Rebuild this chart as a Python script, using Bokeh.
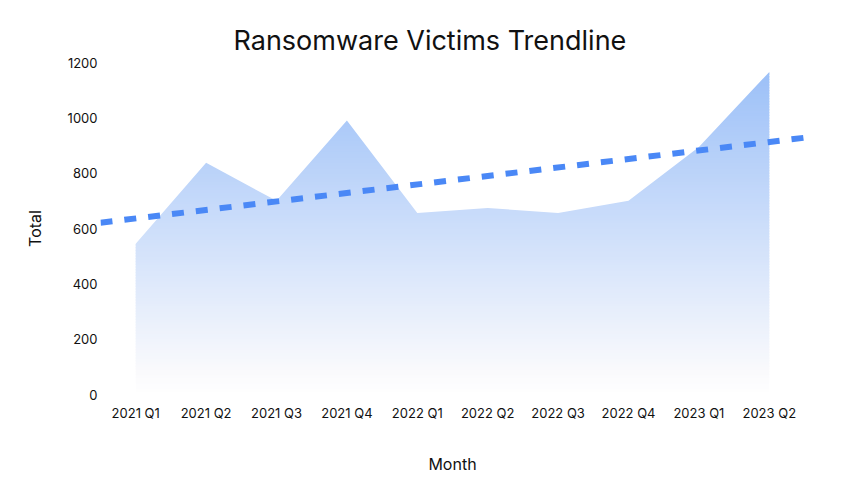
from bokeh.plotting import figure
from bokeh.models import Range1d, FixedTicker, ColumnDataSource
from bokeh.embed import file_html
from bokeh.resources import INLINE
import numpy as np

# Data
quarters = ['2021 Q1', '2021 Q2', '2021 Q3', '2021 Q4', '2022 Q1',
            '2022 Q2', '2022 Q3', '2022 Q4', '2023 Q1', '2023 Q2']
victims = [545, 838, 700, 990, 656, 674, 656, 700, 895, 1166]

# Trendline values at the left and right edge of the plot
trend_x = [-0.5, 9.5]
trend_y = [621, 928]

y_ticks = [0, 200, 400, 600, 800, 1000, 1200]

FONT = "Inter"
idx = np.arange(len(quarters))

p = figure(
    width=851,
    height=476,
    x_range=Range1d(-0.5, len(quarters) - 0.5),
    y_range=Range1d(0, 1200),
    output_backend="svg",
    toolbar_location=None,
    tools="",
    min_border_left=100,
    min_border_right=47,
    min_border_top=62,
    min_border_bottom=81,
    background_fill_color="white",
    border_fill_color="white",
    outline_line_color=None,
)

# Vertical gradient: thin horizontal bands, then white mask above the series
top_col = np.array([156, 192, 248])
bot_col = np.array([250, 250, 252])
y_lo, y_hi = 80, max(victims)
edges = np.linspace(0, y_hi, 118)
colors = []
for a, b in zip(edges[:-1], edges[1:]):
    mid = (a + b) / 2
    t = min(max((mid - y_lo) / (y_hi - y_lo), 0), 1)
    if mid < y_lo:
        c = bot_col + (np.array([255, 255, 255]) - bot_col) * (1 - mid / y_lo)
    else:
        c = bot_col + (top_col - bot_col) * t
    colors.append("#%02x%02x%02x" % tuple(int(round(v)) for v in c))

bands = ColumnDataSource(dict(
    left=[idx[0]] * len(colors), right=[idx[-1]] * len(colors),
    bottom=edges[:-1], top=edges[1:] + 5, color=colors,
))
p.quad(left='left', right='right', bottom='bottom', top='top',
       fill_color='color', line_color=None, source=bands)

# mask everything above the series (extended sideways so no edge sliver shows)
mask_x = np.r_[idx[0] - 0.5, idx, idx[-1] + 0.5]
mask_y = np.r_[victims[0], victims, victims[-1]]
p.varea(x=mask_x, y1=mask_y, y2=[1300] * len(mask_x), fill_color="white")

# dashed trendline
p.line(trend_x, trend_y, line_color="#4a88f6", line_width=6, line_dash="12 12")

# Title
p.title.text = "Ransomware Victims Trendline"
p.title.align = "left"
p.title.offset = 133
p.title.standoff = 12
p.title.text_font = FONT
p.title.text_font_size = "27px"
p.title.text_font_style = "normal"
p.title.text_color = "#111111"

# Axes
p.xaxis.ticker = FixedTicker(ticks=list(idx))
p.xaxis.major_label_overrides = {int(i): q for i, q in zip(idx, quarters)}
p.yaxis.ticker = FixedTicker(ticks=y_ticks)
p.xaxis.axis_label = "Month"
p.yaxis.axis_label = "Total"

for ax in (p.xaxis, p.yaxis):
    ax.axis_line_color = None
    ax.major_tick_line_color = None
    ax.minor_tick_line_color = None
    ax.major_tick_out = 0
    ax.major_tick_in = 0
    ax.minor_tick_out = 0
    ax.minor_tick_in = 0
    ax.major_label_text_font = FONT
    ax.major_label_text_font_size = "13px"
    ax.major_label_text_font_style = "normal"
    ax.major_label_text_color = "#111111"
    ax.axis_label_text_font = FONT
    ax.axis_label_text_font_size = "16px"
    ax.axis_label_text_font_style = "normal"
    ax.axis_label_text_color = "#111111"

p.xaxis.major_label_standoff = 10
p.xaxis.axis_label_standoff = 30
p.yaxis.major_label_standoff = 3
p.yaxis.axis_label_standoff = 20

p.xgrid.grid_line_color = None
p.ygrid.grid_line_color = None

open("out.html", "w").write(file_html(p, INLINE))
